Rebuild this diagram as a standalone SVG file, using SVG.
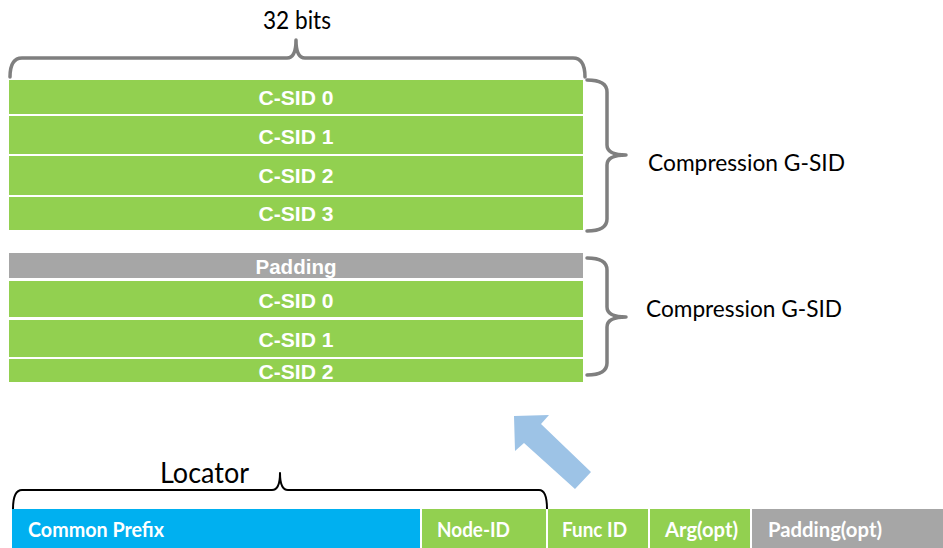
<svg xmlns="http://www.w3.org/2000/svg" width="943" height="548" viewBox="0 0 943 548">
<style>
.green{fill:#92D050}
.gray{fill:#A6A6A6}
.blue{fill:#00B0F0}
.lbl{font-family:"Liberation Sans",Arial,sans-serif;font-weight:bold;font-size:21px;fill:#FFFFFF;text-anchor:middle}
.bar{font-family:Lato,"Open Sans",sans-serif;font-weight:bold;font-size:21px;fill:#FFFFFF}
.cap{font-family:Lato,"Open Sans",sans-serif;fill:#000000}
.brace{fill:none;stroke:#7F7F7F;stroke-width:3.5;stroke-linejoin:round;stroke-linecap:round}
.lbrace{fill:none;stroke:#000000;stroke-width:2;stroke-linejoin:round}
</style>
<rect width="943" height="548" fill="#FFFFFF"/>
<g id="connectors">
<path class="brace" d="M10,77 Q10,58 22,58 L287,58 Q296,58 296,40 Q296,58 305,58 L573,58 Q585,58 585,77"/>
<path class="brace" d="M587,80 Q607,80 607,92 L607,145 Q607,155 626,155 Q607,155 607,165 L607,219 Q607,231 587,231"/>
<path class="brace" d="M587,258 Q607,258 607,270 L607,307 Q607,317 626,317 Q607,317 607,327 L607,363 Q607,375 587,375"/>
<path class="lbrace" d="M13,509 Q13,490 22,490 L272,490 Q280,490 280,473 Q280,490 288,490 L539,490 Q547,490 547,509"/>
<polygon fill="#9DC3E6" points="514,416 549,415 541,424 591,472 575,489 524,443 515,451"/>
</g>
<g id="label-32bits"><text class="cap" x="297" y="29" font-size="25" text-anchor="middle" textLength="68" lengthAdjust="spacingAndGlyphs">32 bits</text></g>
<g id="label-gsid1"><text class="cap" x="648" y="171" font-size="24" textLength="197" lengthAdjust="spacingAndGlyphs">Compression G-SID</text></g>
<g id="label-gsid2"><text class="cap" x="646" y="317" font-size="24" textLength="196" lengthAdjust="spacingAndGlyphs">Compression G-SID</text></g>
<g id="label-locator"><text class="cap" x="160" y="483" font-size="29" textLength="89" lengthAdjust="spacingAndGlyphs">Locator</text></g>
<g id="g1-csid0"><rect class="green" x="9" y="80" width="574" height="34"/><text class="lbl" x="296" y="105" textLength="75" lengthAdjust="spacingAndGlyphs">C-SID 0</text></g>
<g id="g1-csid1"><rect class="green" x="9" y="116" width="574" height="38"/><text class="lbl" x="296" y="144" textLength="75" lengthAdjust="spacingAndGlyphs">C-SID 1</text></g>
<g id="g1-csid2"><rect class="green" x="9" y="156" width="574" height="39"/><text class="lbl" x="296" y="183" textLength="75" lengthAdjust="spacingAndGlyphs">C-SID 2</text></g>
<g id="g1-csid3"><rect class="green" x="9" y="197" width="574" height="33"/><text class="lbl" x="296" y="221" textLength="75" lengthAdjust="spacingAndGlyphs">C-SID 3</text></g>
<g id="g2-padding"><rect class="gray" x="9" y="253" width="574" height="25"/><text class="lbl" x="296" y="274" textLength="81" lengthAdjust="spacingAndGlyphs">Padding</text></g>
<g id="g2-csid0"><rect class="green" x="9" y="281" width="574" height="36"/><text class="lbl" x="296" y="308" textLength="75" lengthAdjust="spacingAndGlyphs">C-SID 0</text></g>
<g id="g2-csid1"><rect class="green" x="9" y="320" width="574" height="37"/><text class="lbl" x="296" y="347" textLength="75" lengthAdjust="spacingAndGlyphs">C-SID 1</text></g>
<g id="g2-csid2"><rect class="green" x="9" y="359" width="574" height="23"/><text class="lbl" x="296" y="379" textLength="75" lengthAdjust="spacingAndGlyphs">C-SID 2</text></g>
<g id="common-prefix"><rect class="blue" x="12" y="509" width="408" height="39"/><text class="bar" x="28" y="537" textLength="136" lengthAdjust="spacingAndGlyphs">Common Prefix</text></g>
<g id="node-id"><rect class="green" x="422" y="509" width="124" height="39"/><text class="bar" x="437" y="537" textLength="73" lengthAdjust="spacingAndGlyphs">Node-ID</text></g>
<g id="func-id"><rect class="green" x="548" y="509" width="100" height="39"/><text class="bar" x="562" y="537" textLength="65" lengthAdjust="spacingAndGlyphs">Func ID</text></g>
<g id="arg"><rect class="green" x="650" y="509" width="100" height="39"/><text class="bar" x="665" y="537" textLength="73" lengthAdjust="spacingAndGlyphs">Arg(opt)</text></g>
<g id="padding-opt"><rect class="gray" x="752" y="509" width="191" height="39"/><text class="bar" x="768" y="537" textLength="114" lengthAdjust="spacingAndGlyphs">Padding(opt)</text></g>
</svg>
